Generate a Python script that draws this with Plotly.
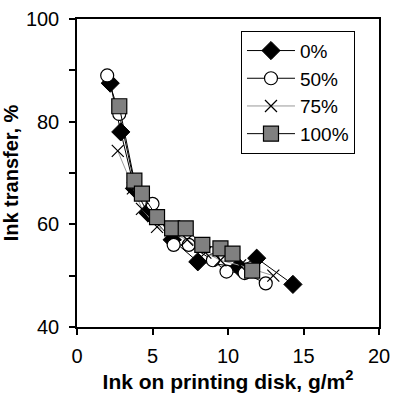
import plotly.graph_objects as go

# 0 %
x0 = [2.2, 2.9, 3.8, 4.7, 6.3, 8.0, 10.7, 11.9, 14.3]
y0 = [87.5, 78.0, 67.0, 62.2, 57.0, 52.7, 51.7, 53.4, 48.3]
# 50 %
x50 = [2.0, 2.8, 3.8, 5.0, 6.4, 7.4, 9.0, 9.9, 11.1, 12.5]
y50 = [89.0, 81.5, 68.0, 64.0, 56.0, 56.0, 53.0, 50.8, 50.5, 48.5]
# 75 %
x75 = [2.7, 3.7, 4.3, 5.3, 6.5, 7.3, 8.5, 9.5, 10.8, 13.0]
y75 = [74.3, 67.0, 63.0, 59.5, 58.0, 57.0, 54.5, 53.0, 52.0, 50.0]
# 100 %
x100 = [2.8, 3.8, 4.3, 5.3, 6.3, 7.2, 8.3, 9.5, 10.3, 11.6]
y100 = [83.0, 68.5, 66.0, 61.4, 59.2, 59.2, 56.0, 55.3, 54.3, 51.0]

names = ["0%", "50%", "75%", "100%"]

FONT = "Liberation Sans, Arial"

fig = go.Figure()
fig.add_trace(go.Scatter(x=x0, y=y0, name=names[0], mode="lines+markers",
                         line=dict(color="black", width=1),
                         marker=dict(symbol="diamond", size=14, color="black",
                                     line=dict(color="black", width=1))))
fig.add_trace(go.Scatter(x=x50, y=y50, name=names[1], mode="lines+markers",
                         line=dict(color="black", width=1),
                         marker=dict(symbol="circle", size=13, color="white",
                                     line=dict(color="black", width=1.2))))
fig.add_trace(go.Scatter(x=x75, y=y75, name=names[2], mode="lines+markers",
                         line=dict(color="#999999", width=1),
                         marker=dict(symbol="x-thin", size=12, color="black",
                                     line=dict(color="black", width=1.2))))
fig.add_trace(go.Scatter(x=x100, y=y100, name=names[3], mode="lines+markers",
                         line=dict(color="black", width=1),
                         marker=dict(symbol="square", size=15, color="#808080",
                                     line=dict(color="black", width=1.2))))

axis_common = dict(showline=True, linecolor="black", linewidth=1.5, mirror=True,
                   showgrid=False, zeroline=False, ticks="outside", tickcolor="black",
                   ticklen=6, tickwidth=1.5, automargin=False,
                   tickfont=dict(family=FONT, size=20, color="black"))

fig.update_layout(
    width=393, height=393,
    margin=dict(l=77, r=14, t=19, b=66),
    paper_bgcolor="white", plot_bgcolor="white",
    xaxis=dict(range=[0, 20], tickvals=[0, 5, 10, 15, 20], ticklabelstandoff=4,
               title=dict(text="<b>Ink on printing disk, g/m<sup>2</sup></b>",
                          font=dict(family=FONT, size=21, color="black"),
                          standoff=0),
               **axis_common),
    yaxis=dict(range=[40, 100], tickvals=[40, 50, 60, 70, 80, 90, 100],
               ticktext=["40", "", "60", "", "80", "", "100"], ticklabelstandoff=6,
               title=dict(text="<b>Ink transfer, %</b>",
                          font=dict(family=FONT, size=20, color="black"),
                          standoff=4),
               **axis_common),
    legend=dict(x=0.543, y=0.962, xanchor="left", yanchor="top",
                bordercolor="black", borderwidth=1, bgcolor="white",
                font=dict(family=FONT, size=19, color="black"),
                itemwidth=48, tracegroupgap=0),
    showlegend=True,
)

fig.write_html("out.html")
